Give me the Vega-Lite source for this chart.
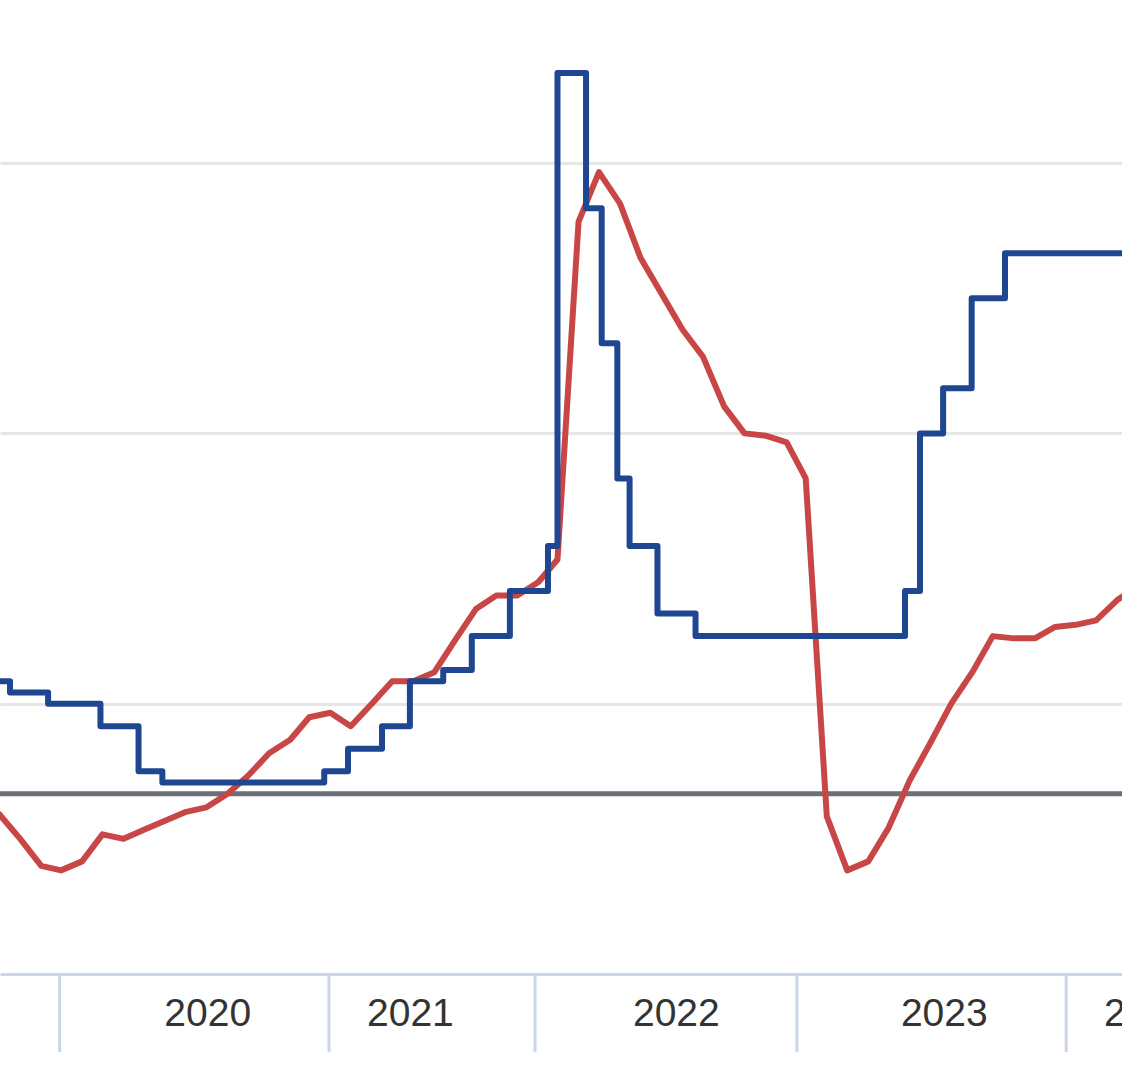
{
  "$schema": "https://vega.github.io/schema/vega-lite/v6.json",
  "width": 1122,
  "height": 974,
  "padding": {"top": 0, "left": 0, "right": 0, "bottom": 102},
  "autosize": {"type": "none"},
  "background": "white",
  "config": {"view": {"stroke": null}},
  "datasets": {
    "ticks": [
      {"date": "2020-02-27", "lo": 0, "hi": -1.73},
      {"date": "2021-03-29", "lo": 0, "hi": -1.73},
      {"date": "2022-01-26", "lo": 0, "hi": -1.73},
      {"date": "2023-02-15", "lo": 0, "hi": -1.73},
      {"date": "2024-03-17", "lo": 0, "hi": -1.73}
    ],
    "target": [{"value": 4}],
    "rate": [
      {"date": "2019-10-28", "value": 6.5},
      {"date": "2019-12-16", "value": 6.25},
      {"date": "2020-02-10", "value": 6.0},
      {"date": "2020-04-27", "value": 5.5},
      {"date": "2020-06-22", "value": 4.5},
      {"date": "2020-07-27", "value": 4.25},
      {"date": "2021-03-22", "value": 4.5},
      {"date": "2021-04-26", "value": 5.0},
      {"date": "2021-06-15", "value": 5.5},
      {"date": "2021-07-26", "value": 6.5},
      {"date": "2021-09-13", "value": 6.75},
      {"date": "2021-10-25", "value": 7.5},
      {"date": "2021-12-20", "value": 8.5},
      {"date": "2022-02-14", "value": 9.5},
      {"date": "2022-02-28", "value": 20},
      {"date": "2022-04-11", "value": 17},
      {"date": "2022-05-04", "value": 14},
      {"date": "2022-05-27", "value": 11},
      {"date": "2022-06-14", "value": 9.5},
      {"date": "2022-07-25", "value": 8.0},
      {"date": "2022-09-19", "value": 7.5},
      {"date": "2023-07-24", "value": 8.5},
      {"date": "2023-08-15", "value": 12},
      {"date": "2023-09-18", "value": 13},
      {"date": "2023-10-30", "value": 15},
      {"date": "2023-12-18", "value": 16},
      {"date": "2024-07-29", "value": 18}
    ],
    "cpi": [
      {"date": "2019-10-31", "value": 3.8},
      {"date": "2019-11-30", "value": 3.55},
      {"date": "2019-12-31", "value": 3.0},
      {"date": "2020-01-31", "value": 2.4},
      {"date": "2020-02-29", "value": 2.3},
      {"date": "2020-03-31", "value": 2.5},
      {"date": "2020-04-30", "value": 3.1},
      {"date": "2020-05-31", "value": 3.0},
      {"date": "2020-06-30", "value": 3.2},
      {"date": "2020-07-31", "value": 3.4},
      {"date": "2020-08-31", "value": 3.6},
      {"date": "2020-09-30", "value": 3.7},
      {"date": "2020-10-31", "value": 4.0},
      {"date": "2020-11-30", "value": 4.4},
      {"date": "2020-12-31", "value": 4.9},
      {"date": "2021-01-31", "value": 5.2},
      {"date": "2021-02-28", "value": 5.7},
      {"date": "2021-03-31", "value": 5.8},
      {"date": "2021-04-30", "value": 5.5},
      {"date": "2021-05-31", "value": 6.0},
      {"date": "2021-06-30", "value": 6.5},
      {"date": "2021-07-31", "value": 6.5},
      {"date": "2021-08-31", "value": 6.7},
      {"date": "2021-09-30", "value": 7.4},
      {"date": "2021-10-31", "value": 8.1},
      {"date": "2021-11-30", "value": 8.4},
      {"date": "2021-12-31", "value": 8.4},
      {"date": "2022-01-31", "value": 8.7},
      {"date": "2022-02-28", "value": 9.2},
      {"date": "2022-03-31", "value": 16.7},
      {"date": "2022-04-30", "value": 17.8},
      {"date": "2022-05-31", "value": 17.1},
      {"date": "2022-06-30", "value": 15.9},
      {"date": "2022-07-31", "value": 15.1},
      {"date": "2022-08-31", "value": 14.3},
      {"date": "2022-09-30", "value": 13.7},
      {"date": "2022-10-31", "value": 12.6},
      {"date": "2022-11-30", "value": 12.0},
      {"date": "2022-12-31", "value": 11.95},
      {"date": "2023-01-31", "value": 11.8},
      {"date": "2023-02-28", "value": 11.0},
      {"date": "2023-03-31", "value": 3.5},
      {"date": "2023-04-30", "value": 2.3},
      {"date": "2023-05-31", "value": 2.5},
      {"date": "2023-06-30", "value": 3.25},
      {"date": "2023-07-31", "value": 4.3},
      {"date": "2023-08-31", "value": 5.15},
      {"date": "2023-09-30", "value": 6.0},
      {"date": "2023-10-31", "value": 6.7},
      {"date": "2023-11-30", "value": 7.5},
      {"date": "2023-12-31", "value": 7.45},
      {"date": "2024-01-31", "value": 7.45},
      {"date": "2024-02-29", "value": 7.7},
      {"date": "2024-03-31", "value": 7.75},
      {"date": "2024-04-30", "value": 7.85},
      {"date": "2024-05-31", "value": 8.3},
      {"date": "2024-06-30", "value": 8.6},
      {"date": "2024-07-31", "value": 9.1}
    ]
  },
  "layer": [
    {
      "data": {"name": "ticks"},
      "mark": {"type": "rule", "color": "#ccd6eb", "strokeWidth": 3},
      "encoding": {
        "x": {
          "field": "date", "type": "temporal",
          "scale": {"type": "utc", "domain": [{"year": 2019, "month": 12, "date": 1, "hours": 7, "utc": true}, {"year": 2024, "month": 6, "date": 7, "hours": 1, "utc": true}]},
          "axis": {
            "title": null,
            "values": [
              {"year": 2020, "month": 10, "date": 1, "utc": true},
              {"year": 2021, "month": 7, "date": 26, "utc": true},
              {"year": 2022, "month": 8, "date": 21, "utc": true},
              {"year": 2023, "month": 9, "date": 19, "utc": true},
              {"year": 2024, "month": 5, "date": 11, "utc": true}
            ],
            "labelExpr": "utcFormat(datum.value, '%Y')",
            "labelAlign": {"condition": {"test": "utcyear(datum.value) == 2024", "value": "left"}, "value": "center"},
            "ticks": false,
            "tickSize": 0,
            "grid": false,
            "domain": true,
            "domainColor": "#ccd6eb",
            "domainWidth": 3,
            "labelFont": "Liberation Sans",
            "labelFontSize": 39,
            "labelColor": "#333333",
            "labelPadding": 20,
            "labelFlush": false,
            "labelOverlap": false,
            "labelBound": false
          }
        },
        "y": {"field": "lo", "type": "quantitative", "scale": {"domain": [0, 21.62], "nice": false, "zero": false}, "axis": {"title": null, "labels": false, "ticks": false, "domain": false, "grid": true, "values": [6, 12, 18], "gridColor": "#e6e6e6", "gridWidth": 3}},
        "y2": {"field": "hi"}
      }
    },
    {
      "data": {"name": "target"},
      "mark": {"type": "rule", "color": "#6b6f7a", "strokeWidth": 5},
      "encoding": {
        "y": {"field": "value", "type": "quantitative"}
      }
    },
    {
      "data": {"name": "cpi"},
      "mark": {"type": "line", "color": "#c84646", "strokeWidth": 6, "strokeJoin": "round", "strokeCap": "round", "clip": true},
      "encoding": {
        "x": {"field": "date", "type": "temporal"},
        "y": {"field": "value", "type": "quantitative"}
      }
    },
    {
      "data": {"name": "rate"},
      "mark": {"type": "line", "color": "#1f4690", "strokeWidth": 6, "interpolate": "step-after", "strokeJoin": "round", "strokeCap": "round", "clip": true},
      "encoding": {
        "x": {"field": "date", "type": "temporal"},
        "y": {"field": "value", "type": "quantitative"}
      }
    }
  ]
}
